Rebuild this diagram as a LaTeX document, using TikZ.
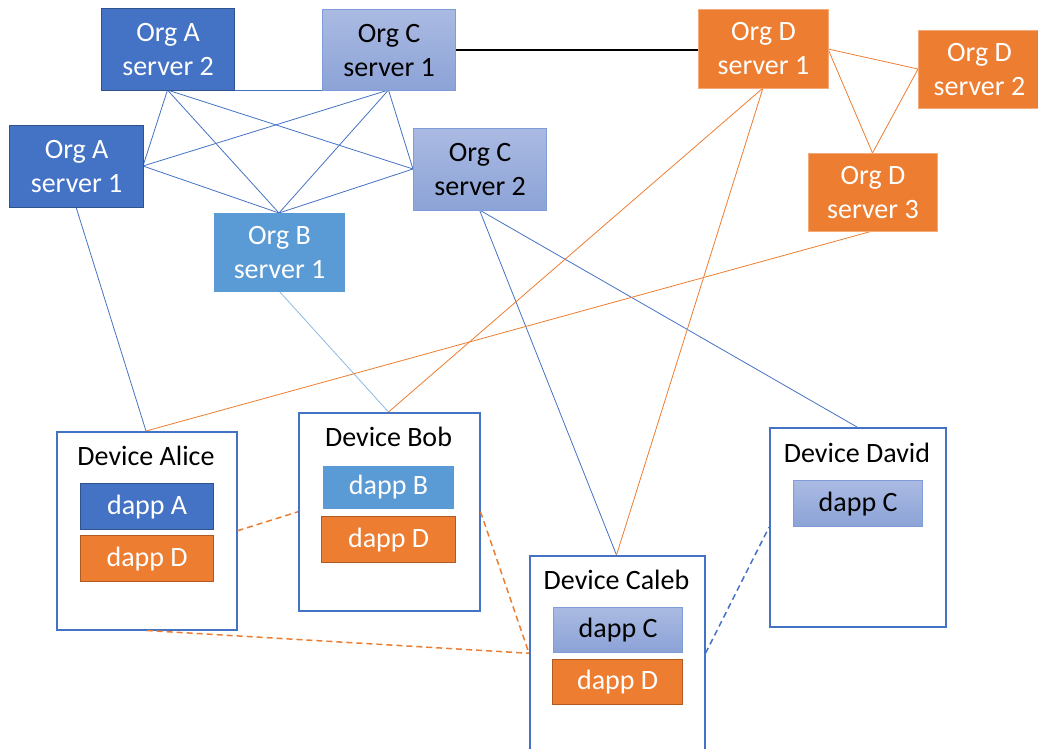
\documentclass[tikz,border=0pt]{standalone}
\usepackage{fontspec}
\setmainfont{Carlito}
\definecolor{blueA}{HTML}{4472C4}
\definecolor{blueAedge}{HTML}{2F528F}
\definecolor{blueB}{HTML}{5B9BD5}
\definecolor{blueCtop}{HTML}{AABAE2}
\definecolor{blueCbot}{HTML}{8CA3D7}
\definecolor{blueCedge}{HTML}{7E9CD8}
\definecolor{orangeD}{HTML}{ED7D31}
\definecolor{orangeDedge}{HTML}{AE5A21}
\definecolor{orangeDlight}{HTML}{F4A978}
\tikzset{
  txt/.style={font=\fontsize{28}{34}\selectfont, align=center, inner sep=0pt},
  srv/.style={txt, anchor=north west, minimum width=#1},
  orgA/.style={fill=blueA, draw=blueAedge, line width=1.2pt, text=white},
  orgB/.style={fill=blueB, draw=blueB, line width=1pt, text=white},
  orgC/.style={top color=blueCtop, bottom color=blueCbot, draw=blueCedge, line width=1.2pt, text=black},
  orgD/.style={fill=orangeD, draw=orangeDlight, line width=0.8pt, text=white},
  dappD/.style={fill=orangeD, draw=orangeDedge, line width=1.2pt, text=white},
  device/.style={draw=blueA, line width=1.5pt, fill=white, anchor=north west, inner sep=0pt},
  title/.style={txt, text=black},
  bl/.style={draw=blueA, line width=0.8pt},
  lb/.style={draw=blueB!70, line width=0.8pt},
  ol/.style={draw=orangeD, line width=0.8pt},
  od/.style={draw=orangeD, line width=1.5pt, dash pattern=on 6pt off 4pt},
  bd/.style={draw=blueA, line width=1.5pt, dash pattern=on 6pt off 4pt},
}
\begin{document}
\begin{tikzpicture}[x=1pt, y=-1pt]
\useasboundingbox (0,0) rectangle (1038,748);

% connectors are drawn first so that the boxes sit on top
\coordinate (a2s) at (167.5,90);
\coordinate (c1s) at (388.5,90);
\coordinate (a1e) at (143,166);
\coordinate (b1n) at (279,213);
\coordinate (c2w) at (413,169);
\coordinate (a1s) at (76,207);
\coordinate (b1s) at (279,291);
\coordinate (c2s) at (479.5,210);
\coordinate (d1s) at (763,88);
\coordinate (d1e) at (828,49);
\coordinate (d2w) at (918,69);
\coordinate (d3n) at (872.5,153);
\coordinate (d3s) at (872.5,231);
\coordinate (c1e) at (455,50);
\coordinate (d1w) at (698,50);
\coordinate (alicen) at (146,431);
\coordinate (bobn) at (388.5,412);
\coordinate (calebn) at (616.5,555);
\coordinate (davidn) at (857,427);

% mesh between the Org A, B and C servers
\draw[bl] (a2s) -- (c1s);
\draw[bl] (a2s) -- (a1e);
\draw[bl] (a2s) -- (b1n);
\draw[bl] (a2s) -- (c2w);
\draw[bl] (c1s) -- (a1e);
\draw[bl] (c1s) -- (b1n);
\draw[bl] (c1s) -- (c2w);
\draw[bl] (a1e) -- (b1n);
\draw[bl] (c2w) -- (b1n);
% Org D cluster
\draw[ol] (d1e) -- (d2w);
\draw[ol] (d1e) -- (d3n);
\draw[ol] (d2w) -- (d3n);
\draw[black, line width=2pt] (c1e) -- (d1w);
% servers to devices
\draw[bl] (a1s) -- (alicen);
\draw[lb] (b1s) -- (bobn);
\draw[bl] (c2s) -- (calebn);
\draw[bl] (c2s) -- (davidn);
\draw[ol] (d1s) -- (bobn);
\draw[ol] (d1s) -- (calebn);
\draw[ol] (d3s) -- (alicen);

% servers
\node[srv=133pt, orgA, minimum height=82pt] (A2) at (101,8) {Org A\\server 2};
\node[srv=133pt, orgC, minimum height=81pt] (C1) at (322,9) {Org C\\server 1};
\node[srv=134pt, orgA, minimum height=82pt] (A1) at (9,125) {Org A\\server 1};
\node[srv=133pt, orgC, minimum height=82pt] (C2) at (413,128) {Org C\\server 2};
\node[srv=130pt, orgB, minimum height=78pt] (B1) at (214,213) {Org B\\server 1};
\node[srv=130pt, orgD, minimum height=79pt] (D1) at (698,9) {Org D\\server 1};
\node[srv=122pt, orgD, minimum height=78pt] (D2) at (918,30) {Org D\\server 2};
\node[srv=129pt, orgD, minimum height=78pt] (D3) at (808,153) {Org D\\server 3};

% devices
\node[device, minimum width=180pt, minimum height=198pt] (Alice) at (56,431) {};
\node[title] (AliceT) at (146,456) {Device Alice};
\node[srv=133pt, orgA, minimum height=46pt] (AliceA) at (80,483) {dapp A};
\node[srv=133pt, dappD, minimum height=46pt] (AliceD) at (80,535) {dapp D};

\node[device, minimum width=181pt, minimum height=198pt] (Bob) at (298,412) {};
\node[title] (BobT) at (388.5,437) {Device Bob};
\node[srv=130pt, orgB, minimum height=42pt] (BobB) at (323,466) {dapp B};
\node[srv=134pt, dappD, minimum height=46pt] (BobD) at (321,516) {dapp D};

\node[device, minimum width=175pt, minimum height=195pt] (Caleb) at (529,555) {};
\node[title] (CalebT) at (616.5,580) {Device Caleb};
\node[srv=129pt, orgC, minimum height=45pt] (CalebC) at (553,607) {dapp C};
\node[srv=130pt, dappD, minimum height=45pt] (CalebD) at (552,659) {dapp D};

\node[device, minimum width=176pt, minimum height=199pt] (David) at (769,427) {};
\node[title] (DavidT) at (857,453) {Device David};
\node[srv=129pt, orgC, minimum height=46pt] (DavidC) at (793,480) {dapp C};

% dapp-to-dapp links between devices
\draw[od] (Alice.east) -- (Bob.west);
\draw[od] (Bob.east) -- (Caleb.west);
\draw[od] (Alice.south) -- (Caleb.west);
\draw[bd] (Caleb.east) -- (David.west);
\end{tikzpicture}
\end{document}
